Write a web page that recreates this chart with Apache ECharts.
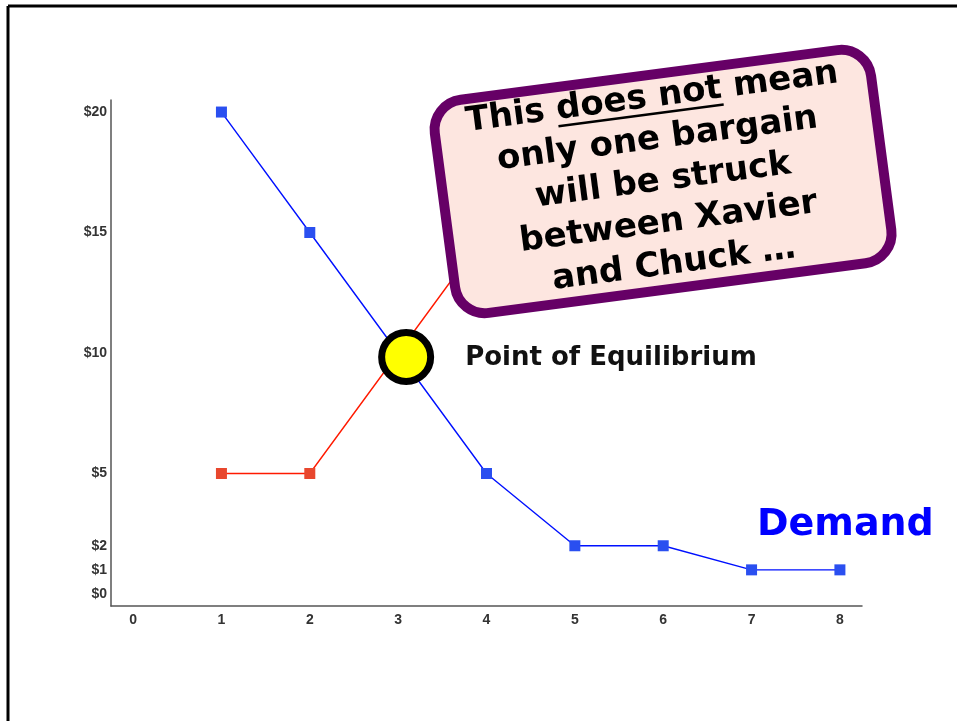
<!DOCTYPE html>
<html><head><meta charset="utf-8">
<script src="https://cdn.jsdelivr.net/npm/echarts/dist/echarts.min.js"></script>
<style>html,body{margin:0;padding:0;background:#fff}#c{width:957px;height:721px}</style>
</head><body><div id="c"></div>
<script>
// ---- data ----
const demandQuantities = [1, 2, 3, 4, 5, 6, 7, 8];
const demandPrices = [20, 15, 10, 5, 2, 2, 1, 1];
const supplyQuantities = [1, 2, 3, 4, 5];
const supplyPrices = [5, 5, 10, 15, 20];
const equilibriumPoint = [3, 10];
const xTickValues = [0, 1, 2, 3, 4, 5, 6, 7, 8];
const yTickValues = [0, 1, 2, 5, 10, 15, 20];
const equilibriumLabel = 'Point of Equilibrium';
const demandLabel = 'Demand';
const calloutLines = ['This does not mean', 'only one bargain', 'will be struck', 'between Xavier', 'and Chuck …'];
const calloutUnderlined = 'does not';

// ---- build ----
const demandData = demandQuantities.map((q, i) => [q, demandPrices[i]]);
const supplyData = supplyQuantities.map((q, i) => [q, supplyPrices[i]]);

const calloutFont = 'bold 34px "DejaVu Sans"';
const lineH = 42;
const ctx = document.createElement('canvas').getContext('2d');
ctx.font = calloutFont;
const l1 = calloutLines[0];
const w1 = ctx.measureText(l1).width;
const preIdx = l1.indexOf(calloutUnderlined);
const wPre = ctx.measureText(l1.slice(0, preIdx)).width;
const wUl = ctx.measureText(calloutUnderlined).width;
const line1Center = -lineH * (calloutLines.length - 1) / 2;
const ulX1 = -w1 / 2 + wPre, ulX2 = ulX1 + wUl, ulY = line1Center + 16;

const chart = echarts.init(document.getElementById('c'), null, {renderer: 'canvas'});
chart.setOption({
  animation: false,
  backgroundColor: '#fff',
  grid: {left: 111, right: 95, top: 100, bottom: 115},
  xAxis: {
    type: 'value', min: -0.25, max: 8.25, interval: 0.25,
    splitLine: {show: false},
    axisTick: {show: false},
    axisLine: {show: true, onZero: false, lineStyle: {color: '#555', width: 1.5}},
    axisLabel: {
      color: '#333', fontSize: 14, fontFamily: 'Liberation Sans', fontWeight: 'bold', margin: 7,
      formatter: v => xTickValues.includes(v) ? String(v) : ''
    }
  },
  yAxis: {
    type: 'value', min: -0.5, max: 20.5, interval: 0.5,
    splitLine: {show: false},
    axisTick: {show: false},
    axisLine: {show: true, onZero: false, lineStyle: {color: '#555', width: 1.5}},
    axisLabel: {
      color: '#333', fontSize: 14, fontFamily: 'Liberation Sans', fontWeight: 'bold', margin: 4,
      formatter: v => yTickValues.includes(v) ? '$' + v : ''
    }
  },
  series: [
    {
      type: 'line', data: supplyData, symbol: 'rect', symbolSize: 11,
      itemStyle: {color: '#e8472e'}, lineStyle: {color: '#ff1a00', width: 1.4}, z: 2
    },
    {
      type: 'line', data: demandData, symbol: 'rect', symbolSize: 11,
      itemStyle: {color: '#2a4ff0'}, lineStyle: {color: '#0010ff', width: 1.4}, z: 3
    },
    {
      type: 'scatter', data: [equilibriumPoint], symbol: 'circle', symbolSize: 49,
      symbolOffset: [8, 4],
      itemStyle: {color: '#ffff00', borderColor: '#000', borderWidth: 7, opacity: 1}, z: 5,
      label: {
        show: true, position: 'right', distance: 31, offset: [0, 1], formatter: equilibriumLabel,
        color: '#111', fontSize: 26, fontWeight: 'bold', fontFamily: 'DejaVu Sans'
      }
    }
  ],
  graphic: [
    {type: 'line', shape: {x1: 8, y1: 6, x2: 957, y2: 6}, style: {stroke: '#000', lineWidth: 3}, z: 50},
    {type: 'line', shape: {x1: 8, y1: 6, x2: 8, y2: 721}, style: {stroke: '#000', lineWidth: 3}, z: 50},
    {
      type: 'text', x: 757, y: 525, z: 50,
      style: {text: demandLabel, fill: '#0000ff', font: 'bold 38px "DejaVu Sans"', verticalAlign: 'middle', align: 'left'}
    },
    {
      type: 'group', x: 663, y: 181, rotation: 7.5 * Math.PI / 180, z: 100,
      children: [
        {type: 'rect', shape: {x: -220, y: -107, width: 440, height: 215, r: 30},
         style: {fill: '#fde6e0', stroke: '#660066', lineWidth: 10}, z: 100},
        {type: 'text', x: 0, y: 0, z: 101,
         style: {text: calloutLines.join('\n'), font: calloutFont, fill: '#000', align: 'center', verticalAlign: 'middle', lineHeight: lineH}},
        {type: 'line', shape: {x1: ulX1, y1: ulY, x2: ulX2, y2: ulY}, style: {stroke: '#000', lineWidth: 2.5}, z: 102}
      ]
    }
  ]
});
</script></body></html>
